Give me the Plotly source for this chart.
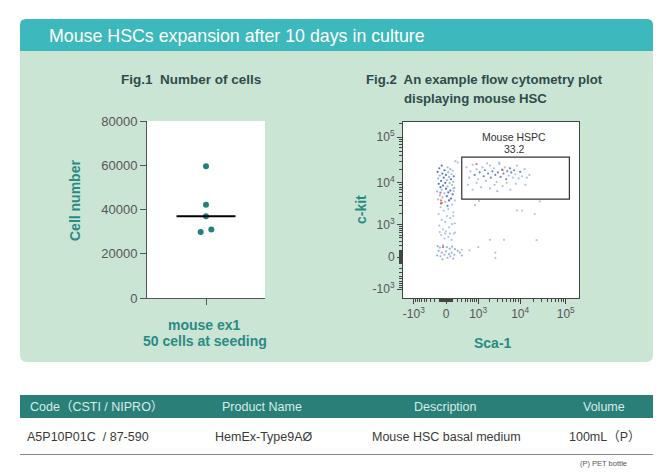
import numpy as np
import plotly.graph_objects as go

# page offset of the plot div (default body margin) is compensated below
OFF = 8
W, H = 665 - OFF, 473 - OFF

# ---------------- Data ----------------
# Fig.1 cell numbers (mouse ex1, 50 cells at seeding)
cell_counts = [59600, 42200, 37000, 31000, 29800]
cell_jitter = [0.0, 0.0, 0.0, 0.09, -0.09]
cell_ticks = [0, 20000, 40000, 60000, 80000]

# Fig.2 flow cytometry events (Sca-1, c-kit), raw fluorescence units
col_dark_sca = [-60, -100, -20, -130, -50, 0, 120, -30, 70, -70, -10, -110, -40, -80, 0, 60, 30, 100, 10, 70, 40, -70, 20]
col_dark_ckit = [24000, 21000, 19000, 17500, 16000, 15000, 14000, 13000, 12000, 11000, 10000, 9500, 8700, 8000, 7400, 6700, 6100, 5500, 5000, 4400, 4000, 3400, 3000]
col_light_sca = [20, 60, 100, 30, 80, -90, 40, -120, 10, 110, 50, 90, 20, 130, -60, -140, -20, -90, -50, -120, -10, 90]
col_light_ckit = [22000, 20000, 18500, 17000, 15500, 14500, 13500, 12500, 11500, 10500, 9800, 9000, 8300, 7700, 7000, 6400, 5800, 5200, 4700, 4200, 3700, 3200]
mid_sca = [-80, 30, -30, 110, -110, 10, 60, -60, -10, 90, -100, 40, -40, 0, 120, -70, 30, -20, 80, -90, -10, 55, 140]
mid_ckit = [2800, 2500, 2300, 2100, 1900, 1700, 1500, 1350, 1200, 1050, 950, 850, 750, 650, 560, 500, 430, 380, 340, 620, 560, 560, 600]
bot_sca = [-130, -90, -40, 10, 50, 90, 140, 200, -110, -60, 0, 40, 80, 130, -140, -80, -20, 20, 60, 250, 300, -50, 110]
bot_ckit = [180, 150, 200, 160, 130, 170, 120, 90, 90, 60, 80, 40, 60, 30, 20, 10, 30, -10, 10, 60, 20, -30, -20]
gate_dark_sca = [800, 1100, 1400, 1800, 2300, 2700, 3100, 3900, 4200, 5100, 5900, 6300, 7300, 10000, 1500, 2100, 3600, 4800]
gate_dark_ckit = [15000, 17000, 14000, 16000, 18000, 15000, 17000, 19500, 16000, 18000, 21000, 17000, 19000, 17500, 19000, 13000, 13500, 12000]
gate_light_sca = [450, 600, 700, 900, 1000, 1300, 1600, 2000, 2500, 2900, 3400, 4500, 5500, 6800, 7800, 8500, 9200, 11000, 12500, 14000, 16000, 500, 700, 1200, 2000, 3000, 4000, 6000, 8000, 13000, 550, 900, 2600, 5000, 3300, 1700]
gate_light_ckit = [22000, 18000, 25000, 20000, 12000, 22000, 11000, 24000, 21000, 10500, 26000, 22000, 14500, 13000, 15500, 24000, 12500, 14000, 20000, 13000, 15000, 9000, 7000, 8000, 7500, 6500, 8500, 7000, 9500, 9000, 13000, 10000, 9000, 10000, 28000, 27000]
scat_sca = [11000, 8500, 21000, 27000, 2000, 4300, 23000, 2700, 2700, 1000, 560, 300, 1050, 820, 120, 140, 110, 140, 110, 200, 150]
scat_ckit = [2300, 2300, 1900, 3800, 340, 340, 330, 60, -15, 160, 100, 110, 3900, 3100, 6500, 4000, 1700, 1100, 7500, 28000, 30000]
red_sca = [-70, -60, -80, 900, 4000, -40]
red_ckit = [4000, 3500, 6000, 26000, 19000, 160]

gate_sca = [300, 120000]
gate_ckit = [4300, 37000]
gate_name = "Mouse HSPC"
gate_pct = "33.2"

flow_ticks = [-1000, 0, 1000, 10000, 100000]
flow_ticktext = ["-10<sup>3</sup>", "0", "10<sup>3</sup>", "10<sup>4</sup>", "10<sup>5</sup>"]

table_header = ["Code（CSTI / NIPRO）", "Product Name", "Description", "Volume"]
table_row = ["A5P10P01C  / 87-590", "HemEx-Type9AØ", "Mouse HSC basal medium", "100mL（P）"]

# ---------------- helpers ----------------
def T(v):
    v = np.asarray(v, dtype=float)
    return np.sign(v) * np.log10(1 + np.abs(v) / 250.0)

def xp(px):
    return (px - OFF) / W

def yp(py):
    return 1 - (py - OFF) / H

def rrect(x0, y0, x1, y1, r, top=True, bottom=True):
    rx, ry = r / W, r / H
    X0, X1, Y0, Y1 = xp(x0), xp(x1), yp(y0), yp(y1)
    p = []
    if top:
        p.append(f"M {X0},{Y0-ry} Q {X0},{Y0} {X0+rx},{Y0} L {X1-rx},{Y0} Q {X1},{Y0} {X1},{Y0-ry}")
    else:
        p.append(f"M {X0},{Y0} L {X1},{Y0}")
    if bottom:
        p.append(f"L {X1},{Y1+ry} Q {X1},{Y1} {X1-rx},{Y1} L {X0+rx},{Y1} Q {X0},{Y1} {X0},{Y1+ry} Z")
    else:
        p.append(f"L {X1},{Y1} L {X0},{Y1} Z")
    return " ".join(p)

TEAL = "#2a8a84"
FONT = "Liberation Sans, Arial, Noto Sans CJK JP, sans-serif"

fig = go.Figure()

# ---------------- Fig.1 ----------------
fig.add_trace(go.Scatter(
    x=[0 + j for j in cell_jitter], y=cell_counts, mode="markers",
    marker=dict(size=6, color="#21807a"), xaxis="x", yaxis="y", showlegend=False))
med = float(np.median(cell_counts))
fig.add_trace(go.Scatter(
    x=[-0.5, 0.5], y=[med, med], mode="lines",
    line=dict(color="black", width=2), xaxis="x", yaxis="y", showlegend=False))

# ---------------- Fig.2 ----------------
groups = [
    (col_light_sca, col_light_ckit, "#a3b6e5"),
    (mid_sca, mid_ckit, "#b2c2ea"),
    (bot_sca, bot_ckit, "#9db1e2"),
    (gate_light_sca, gate_light_ckit, "#adbfe8"),
    (scat_sca, scat_ckit, "#b2c2ea"),
    (col_dark_sca, col_dark_ckit, "#5876c6"),
    (gate_dark_sca, gate_dark_ckit, "#6f88cc"),
    (red_sca, red_ckit, "#e2705a"),
]
for sx, sy, c in groups:
    fig.add_trace(go.Scatter(
        x=T(sx), y=T(sy), mode="markers",
        marker=dict(size=2.2, color=c, line=dict(width=0)),
        xaxis="x2", yaxis="y2", showlegend=False))

minor_vals = []
for d in [10, 100, 1000, 10000, 100000]:
    for m in range(1, 10):
        v = m * d
        if v in (1000, 10000, 100000):
            continue
        minor_vals.append(v)
        minor_vals.append(-v)
minor_vals.append(200000)
minor_T = [float(t) for t in T(minor_vals)]

axis_common = dict(showgrid=False, zeroline=False, linecolor="#444", linewidth=1,
                   ticks="outside", ticklen=5, tickcolor="#444", automargin=False,
                   tickfont=dict(family=FONT, size=12, color="#555"))

fig.update_layout(
    width=W, height=H, margin=dict(l=0, r=0, t=0, b=0, pad=0),
    paper_bgcolor="white", plot_bgcolor="rgba(0,0,0,0)",
    font=dict(family=FONT),
    xaxis=dict(domain=[xp(147), xp(265)], range=[-1, 1], showline=True, automargin=False,
               tickvals=[0], ticktext=[""], showgrid=False, zeroline=False,
               linecolor="#555", ticks="outside", ticklen=6, tickcolor="#555"),
    yaxis=dict(domain=[yp(298), yp(121)], range=[0, 80000], showline=True, automargin=False,
               tickvals=cell_ticks, ticktext=[str(v) for v in cell_ticks],
               showgrid=False, zeroline=False,
               linecolor="#555", ticks="outside", ticklen=6, tickcolor="#555",
               tickfont=dict(family=FONT, size=13, color="#555")),
    xaxis2=dict(domain=[xp(403), xp(579)], range=[-0.935, 2.891], anchor="y2", showline=True,
                mirror=True, tickvals=[float(t) for t in T(flow_ticks)], ticktext=flow_ticktext,
                minor=dict(tickmode="array", tickvals=minor_T, ticklen=3, ticks="outside", tickcolor="#444"),
                **axis_common),
    yaxis2=dict(domain=[yp(298), yp(122)], range=[-0.891, 2.935], anchor="x2", showline=True,
                mirror=True, tickvals=[float(t) for t in T(flow_ticks)], ticktext=flow_ticktext,
                minor=dict(tickmode="array", tickvals=minor_T, ticklen=3, ticks="outside", tickcolor="#444"),
                **axis_common),
)

# ---------------- shapes ----------------
shapes = [
    dict(type="path", path=rrect(20, 19, 653, 52, 6, top=True, bottom=False),
         xref="paper", yref="paper", fillcolor="#3db8bc", line=dict(width=0), layer="below"),
    dict(type="path", path=rrect(20, 51, 653, 362, 7, top=False, bottom=True),
         xref="paper", yref="paper", fillcolor="#cbe5d5", line=dict(width=0), layer="below"),
    dict(type="rect", x0=xp(147), x1=xp(265), y0=yp(298), y1=yp(121),
         xref="paper", yref="paper", fillcolor="white", line=dict(width=0), layer="below"),
    dict(type="rect", x0=xp(403), x1=xp(579), y0=yp(298), y1=yp(122),
         xref="paper", yref="paper", fillcolor="white", line=dict(width=0), layer="below"),
    dict(type="rect", x0=float(T(gate_sca[0])), x1=float(T(gate_sca[1])),
         y0=float(T(gate_ckit[0])), y1=float(T(gate_ckit[1])),
         xref="x2", yref="y2", line=dict(color="#333", width=1.2), fillcolor="rgba(0,0,0,0)"),
    dict(type="rect", x0=xp(20), x1=xp(653), y0=yp(418), y1=yp(395),
         xref="paper", yref="paper", fillcolor="#2a7f79", line=dict(width=0), layer="below"),
    dict(type="line", x0=xp(20), x1=xp(653), y0=yp(454.5), y1=yp(454.5),
         xref="paper", yref="paper", line=dict(color="#8a8a8a", width=1)),
]
fig.update_layout(shapes=shapes)

# ---------------- annotations ----------------
ann = []
def A(text, x, y, size, color, xanchor="center", bold=False, angle=0, family=FONT):
    ann.append(dict(text=f"<b>{text}</b>" if bold else text, x=xp(x), y=yp(y),
                    xref="paper", yref="paper", showarrow=False, xanchor=xanchor,
                    yanchor="middle", textangle=angle, borderpad=0, borderwidth=0,
                    font=dict(family=family, size=size, color=color)))

A("Mouse HSCs expansion after 10 days in culture", 49, 36, 17.8, "white", xanchor="left")
A("Fig.1  Number of cells", 121, 80, 13.5, "#2f4b4a", xanchor="left", bold=True)
A("Fig.2  An example flow cytometry plot", 366, 80, 13.2, "#2f4b4a", xanchor="left", bold=True)
A("displaying mouse HSC", 404, 99, 13.2, "#2f4b4a", xanchor="left", bold=True)
A("Cell number", 75, 201, 14, TEAL, bold=True, angle=-90)
A("mouse ex1", 204, 325, 14, TEAL, bold=True)
A("50 cells at seeding", 205, 341, 14, TEAL, bold=True)
A("c-kit", 361, 210, 14, TEAL, bold=True, angle=-90)
A("Sca-1", 493, 343, 14, TEAL, bold=True)
A(gate_name, 514, 137, 10.5, "#333")
A(gate_pct, 514, 149, 10.5, "#333")

hx = [(30, "left"), (262, "center"), (445, "center"), (604, "center")]
for (x, anc), t in zip(hx, table_header):
    A(t, x, 406.5, 12.5, "#d6ecea", xanchor=anc)
rx = [(27, "left"), (264, "center"), (446, "center"), (605, "center")]
for (x, anc), t in zip(rx, table_row):
    A(t, x, 437, 12.5, "#3a3a3a", xanchor=anc)
A("(P) PET bottle", 627, 463.5, 7.5, "#555", xanchor="right")

fig.update_layout(annotations=ann)

fig.write_html("out.html")
